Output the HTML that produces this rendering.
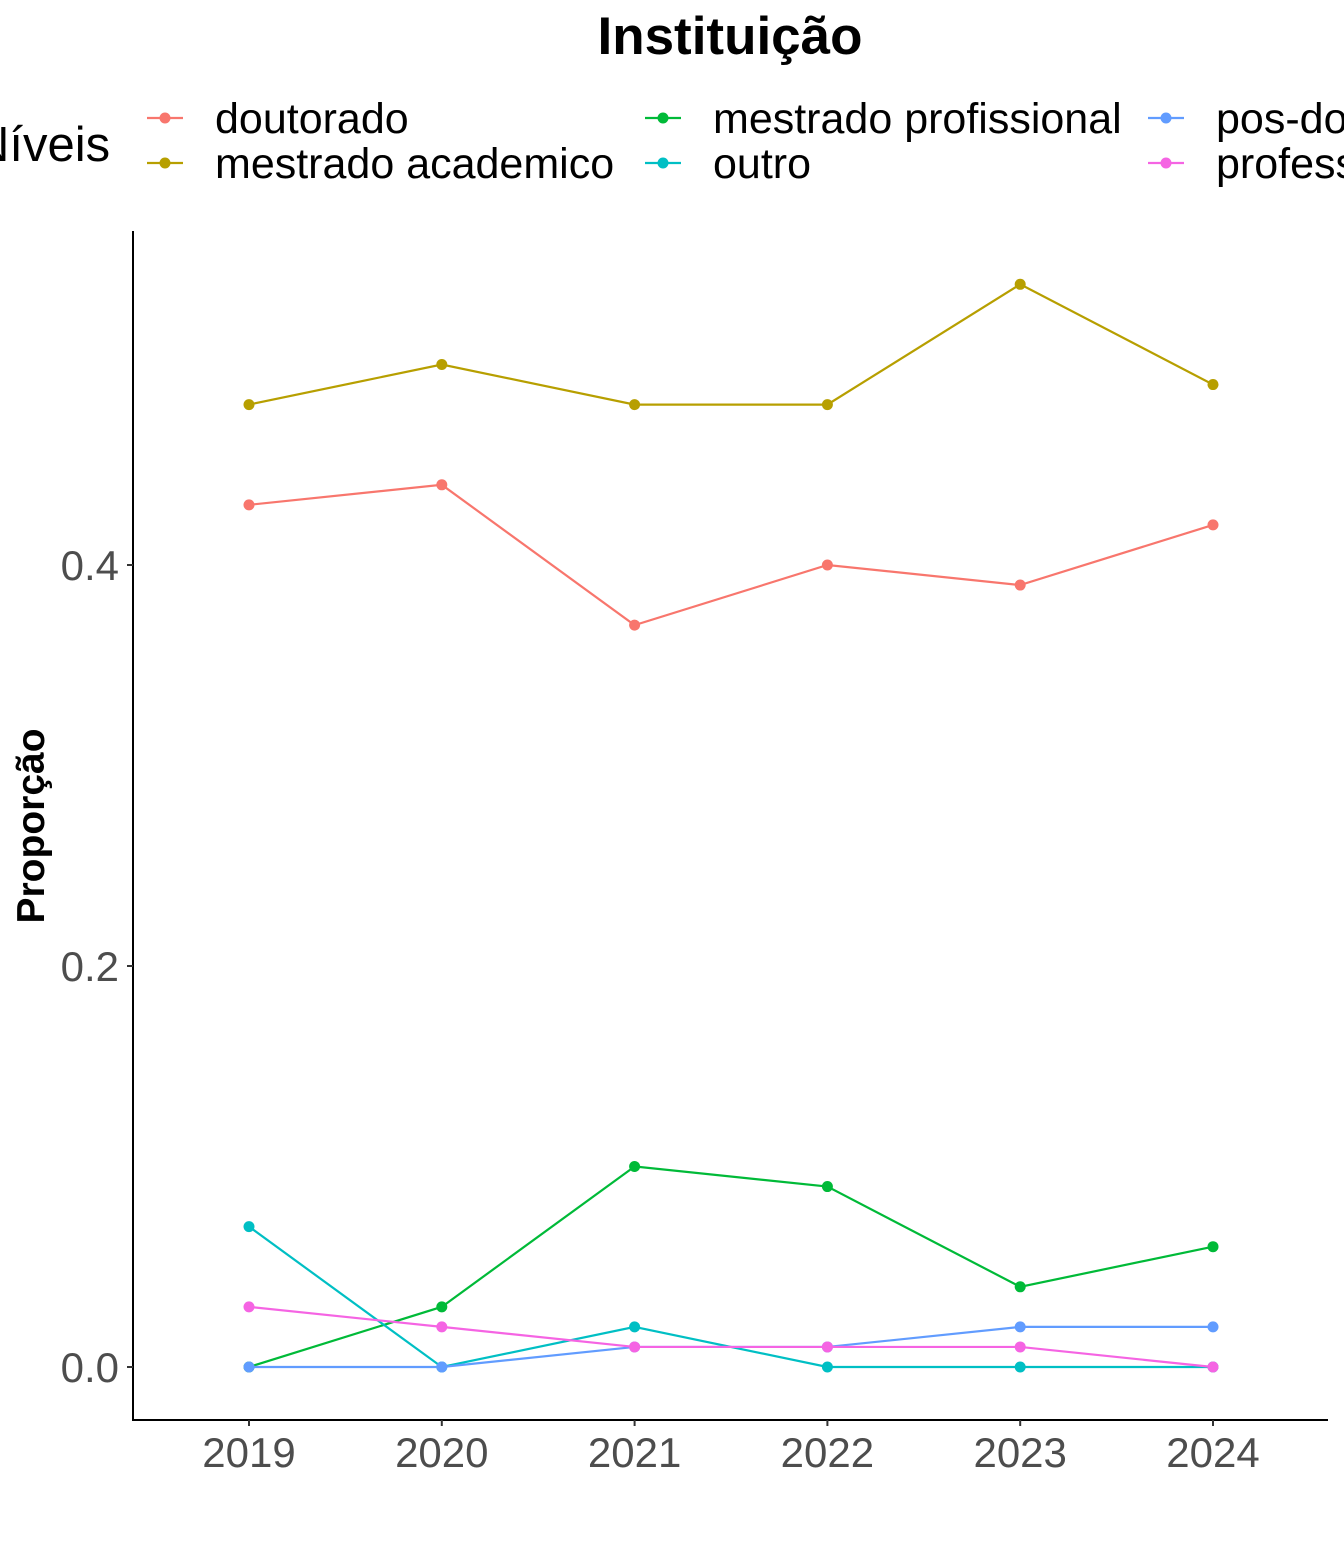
<!DOCTYPE html>
<html><head><meta charset="utf-8"><style>
body{margin:0;background:#fff;width:1344px;height:1536px;overflow:hidden}
svg text{font-family:"Liberation Sans",sans-serif}
</style></head><body>
<svg id="chart" width="1344" height="1536" xmlns="http://www.w3.org/2000/svg">
<text x="730" y="54" font-size="53" font-weight="bold" text-anchor="middle">Instituição</text>
<text x="-26" y="161" font-size="49">Níveis</text>
<g id="legend"></g>
<line x1="133" y1="231" x2="133" y2="1421" stroke="#000" stroke-width="2"/>
<line x1="132" y1="1420" x2="1328" y2="1420" stroke="#000" stroke-width="2"/>
<g id="axes"></g>
<g id="series"></g>
<text transform="translate(44,826) rotate(-90)" font-size="39" font-weight="bold" text-anchor="middle">Proporção</text>
</svg>
<script>
const years=[2019,2020,2021,2022,2023,2024];
const seriesNames=["doutorado","mestrado academico","mestrado profissional","outro","pos-doc","professor"];
const doutorado=[0.43,0.44,0.37,0.40,0.39,0.42];
const mestradoAcademico=[0.48,0.50,0.48,0.48,0.54,0.49];
const mestradoProfissional=[0,0.03,0.10,0.09,0.04,0.06];
const outro=[0.07,0,0.02,0,0,0];
const posDoc=[0,0,0.01,0.01,0.02,0.02];
const professor=[0.03,0.02,0.01,0.01,0.01,0];
const yTicks=[0,0.2,0.4];
const yTickLabels=["0.0","0.2","0.4"];
const colors=["#F8766D","#B79F00","#00BA38","#00BFC4","#619CFF","#F564E3"];
const allSeries=[doutorado,mestradoAcademico,mestradoProfissional,outro,posDoc,professor];
const NS="http://www.w3.org/2000/svg";
const xS=i=>249+i*192.8;
const yS=v=>1367-v*2005;
function mk(t,a,p){const e=document.createElementNS(NS,t);for(const k in a)e.setAttribute(k,a[k]);p.appendChild(e);return e;}
const axes=document.getElementById('axes');
yTicks.forEach((v,i)=>{
 const l=mk('line',{x1:127,x2:133,y1:yS(v),y2:yS(v),stroke:'#333','stroke-width':2},axes);
 
 
 const t=mk('text',{x:119,y:yS(v)+15,'font-size':42,fill:'#4d4d4d','text-anchor':'end'},axes);
 t.textContent=yTickLabels[i];
 
 
});
years.forEach((y,i)=>{
 const l=mk('line',{x1:xS(i),x2:xS(i),y1:1420,y2:1426,stroke:'#333','stroke-width':2},axes);
 
 
 const t=mk('text',{x:xS(i),y:1467,'font-size':42,fill:'#4d4d4d','text-anchor':'middle'},axes);
 t.textContent=y;
 
 
});
const sg=document.getElementById('series');
allSeries.forEach((s,k)=>{
 const g=mk('g',{},sg);
 
 
 const p=mk('polyline',{points:s.map((v,i)=>xS(i)+','+yS(v)).join(' '),fill:'none',stroke:colors[k],'stroke-width':2.2},g);
 
 
 s.forEach((v,i)=>{
  const c=mk('circle',{cx:xS(i),cy:yS(v),r:5.5,fill:colors[k]},g);
  
  
 });
});
const lg=document.getElementById('legend');
const pos=[[147,118],[147,163],[645,118],[645,163],[1148,118],[1148,163]];
seriesNames.forEach((n,k)=>{
 const g=mk('g',{},lg);
 
 
 const [x,y]=pos[k];
 mk('line',{x1:x,x2:x+36,y1:y,y2:y,stroke:colors[k],'stroke-width':2.2},g);
 mk('circle',{cx:x+18,cy:y,r:5.5,fill:colors[k]},g);
 const t=mk('text',{x:x+68,y:y+15,'font-size':43},g);
 t.textContent=n;
});
</script>
</body></html>
